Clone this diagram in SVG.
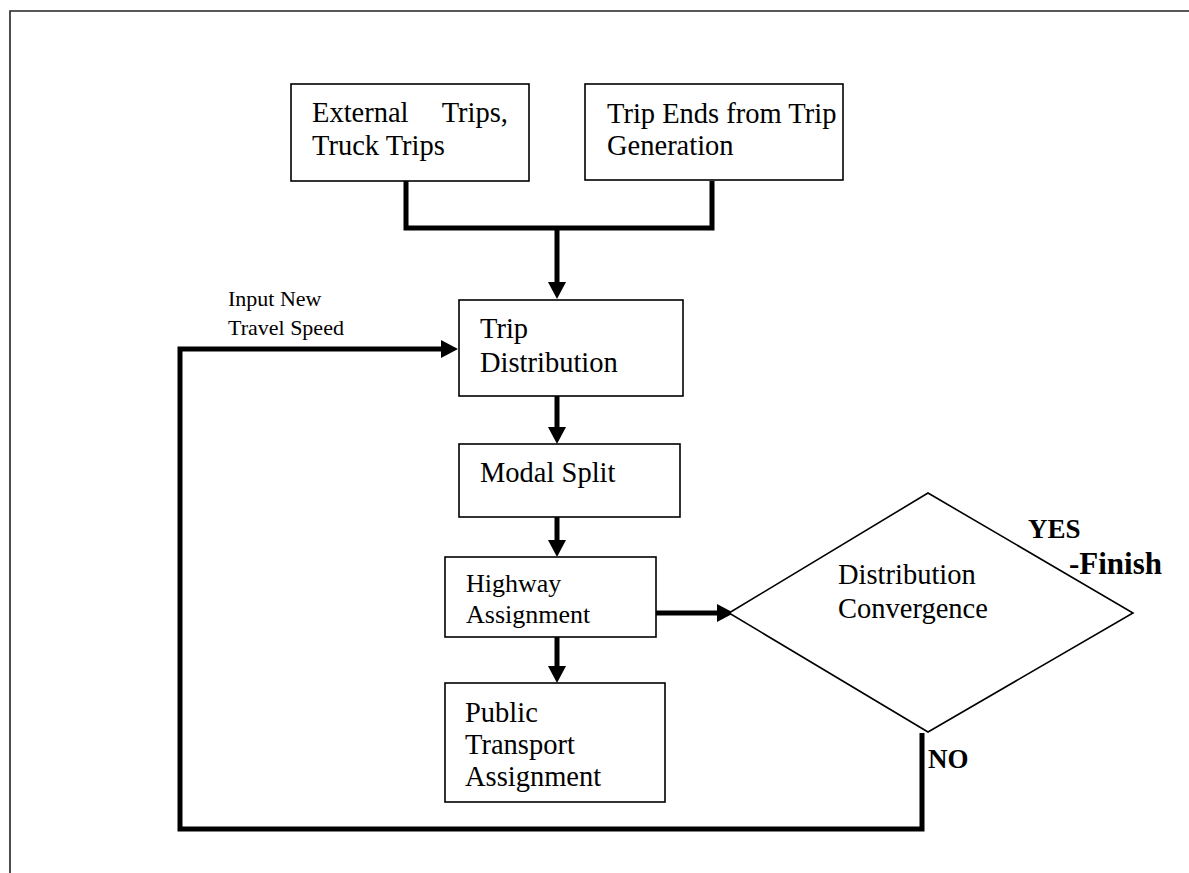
<svg xmlns="http://www.w3.org/2000/svg" width="1189" height="873" viewBox="0 0 1189 873">
<style>
.box{fill:#fff;stroke:#000;stroke-width:1.6}
.t{font-family:"Liberation Serif","Times New Roman",serif;font-size:28.5px;fill:#000}
.s{font-size:26px}
.sm{font-family:"Liberation Serif","Times New Roman",serif;font-size:22px;fill:#000}
.b{font-family:"Liberation Serif","Times New Roman",serif;font-weight:bold;font-size:27px;fill:#000}
.c{fill:none;stroke:#000;stroke-width:5}
</style>
<defs>
<marker id="ah" markerUnits="userSpaceOnUse" markerWidth="17" markerHeight="18" refX="0" refY="9" orient="auto">
<path d="M0,0 L17,9 L0,18 z" fill="#000"/>
</marker>
</defs>
<rect x="0" y="0" width="1189" height="873" fill="#fff"/>
<path d="M10,873 V11 H1189" fill="none" stroke="#222" stroke-width="1.6"/>
<g id="connectors">
<path class="c" d="M406,181 V228 H712 V181"/>
<path class="c" d="M557,228 V282" marker-end="url(#ah)"/>
<path class="c" d="M557,396 V427" marker-end="url(#ah)"/>
<path class="c" d="M557,517 V540" marker-end="url(#ah)"/>
<path class="c" d="M557,637 V666" marker-end="url(#ah)"/>
<path class="c" d="M656,613 H717" marker-end="url(#ah)"/>
<path class="c" d="M922,733 V829 H180 V349 H441" marker-end="url(#ah)"/>
</g>
<g id="external">
<rect class="box" x="291" y="84" width="238" height="97"/>
<text class="t" x="312" y="122">External</text>
<text class="t" x="508" y="122" text-anchor="end">Trips,</text>
<text class="t" x="312" y="155">Truck Trips</text>
</g>
<g id="tripends">
<rect class="box" x="585" y="84" width="258" height="96"/>
<text class="t" x="607" y="123">Trip Ends from Trip</text>
<text class="t" x="607" y="155">Generation</text>
</g>
<g id="distribution">
<rect class="box" x="459" y="300" width="224" height="96"/>
<text class="t" x="480" y="338">Trip</text>
<text class="t" x="480" y="372">Distribution</text>
</g>
<g id="modal">
<rect class="box" x="459" y="444" width="221" height="73"/>
<text class="t" x="480" y="482">Modal Split</text>
</g>
<g id="highway">
<rect class="box" x="445" y="557" width="211" height="80"/>
<text class="t s" x="466" y="592">Highway</text>
<text class="t s" x="466" y="623">Assignment</text>
</g>
<g id="public">
<rect class="box" x="445" y="683" width="220" height="119"/>
<text class="t" x="465" y="722">Public</text>
<text class="t" x="465" y="754">Transport</text>
<text class="t" x="465" y="786">Assignment</text>
</g>
<g id="convergence">
<polygon class="box" points="729,613 928,493 1133,613 928,732"/>
<text class="t" x="838" y="584">Distribution</text>
<text class="t" x="838" y="618">Convergence</text>
</g>
<g id="labels">
<text class="sm" x="228" y="306">Input New</text>
<text class="sm" x="228" y="335">Travel Speed</text>
<text class="b" x="1028" y="538">YES</text>
<text class="b" x="1069" y="574" style="font-size:31px">-Finish</text>
<text class="b" x="928" y="768">NO</text>
</g>
</svg>
